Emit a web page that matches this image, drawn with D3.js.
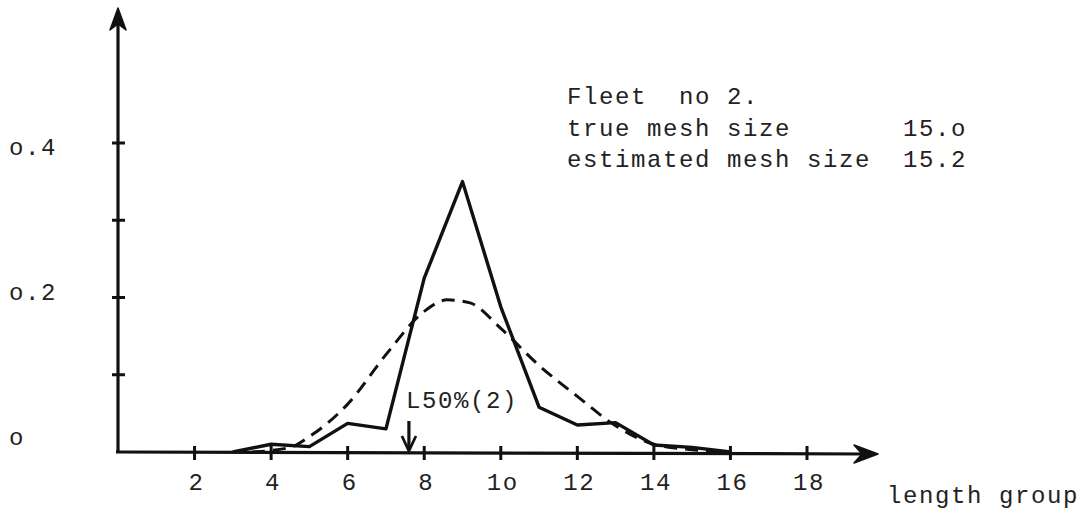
<!DOCTYPE html>
<html>
<head>
<meta charset="utf-8">
<script src="https://cdn.jsdelivr.net/npm/d3@7"></script>
<style>
  html, body { margin: 0; padding: 0; background: #fff; }
  svg { display: block; }
  text { font-family: "Liberation Mono", "DejaVu Sans Mono", monospace; font-size: 24px; fill: #222; letter-spacing: 1.6px; white-space: pre; }
</style>
</head>
<body>
<svg id="chart" width="1086" height="515"></svg>
<script>
// ---- data ----
const xTickValues = [2, 4, 6, 8, 10, 12, 14, 16, 18];
const xTickLabels = ["2", "4", "6", "8", "1o", "12", "14", "16", "18"];
const yTickValues = [0.1, 0.2, 0.3, 0.4];
const yLabelValues = [0, 0.2, 0.4];
const yLabelTexts = ["o", "o.2", "o.4"];

// observed (solid) selection curve
const observedX = [3, 4, 5, 6, 7, 8, 9, 10, 11, 12, 13, 14, 15, 16];
const observedY = [0, 0.010, 0.007, 0.037, 0.030, 0.225, 0.350, 0.188, 0.058, 0.035, 0.038, 0.009, 0.006, 0];

// estimated (dashed) selection curve
const estimatedX = [3.5, 4.5, 5, 6, 7, 8, 8.6, 9.2, 10, 11, 12, 13, 14, 15, 16];
const estimatedY = [0, 0.006, 0.020, 0.062, 0.126, 0.182, 0.197, 0.193, 0.160, 0.112, 0.072, 0.034, 0.010, 0.003, 0];

const l50Value = 7.6;
const infoLines = ["Fleet  no 2.", "true mesh size", "estimated mesh size"];
const infoValues = ["", "15.o", "15.2"];
const xTitle = "length group";
const l50Label = "L50%(2)";

// ---- drawing ----
const svg = d3.select("#chart");
const x = d3.scaleLinear().domain([0, 18]).range([118, 807]);
const y = d3.scaleLinear().domain([0, 0.4]).range([452, 143]);
const yLab = d3.scaleLinear().domain([0, 0.4]).range([437, 147]);
const ink = "#111";

// Y axis line + arrowhead
const yTop = 10;
svg.append("line").attr("x1", x(0)).attr("x2", x(0)).attr("y1", y(0) + 1).attr("y2", yTop + 12)
  .attr("stroke", ink).attr("stroke-width", 3.2);
svg.append("path")
  .attr("d", `M${x(0)},${yTop - 2} L${x(0) - 8},${yTop + 20} L${x(0)},${yTop + 14} L${x(0) + 8},${yTop + 20} Z`)
  .attr("fill", ink).attr("stroke", ink).attr("stroke-width", 1.5).attr("stroke-linejoin", "round");

// X axis line + arrowhead
const xEnd = 878;
svg.append("line").attr("x1", x(0) - 2).attr("x2", xEnd - 10).attr("y1", y(0)).attr("y2", y(0) + 2)
  .attr("stroke", ink).attr("stroke-width", 3.2);
svg.append("path")
  .attr("d", `M${xEnd},${y(0) + 2} L${xEnd - 24},${y(0) - 7} L${xEnd - 16},${y(0) + 2} L${xEnd - 24},${y(0) + 11} Z`)
  .attr("fill", ink).attr("stroke", ink).attr("stroke-width", 1.5).attr("stroke-linejoin", "round");

// Y ticks
svg.append("g").selectAll("line").data(yTickValues).join("line")
  .attr("x1", x(0) - 6).attr("x2", x(0) + 7)
  .attr("y1", d => y(d)).attr("y2", d => y(d))
  .attr("stroke", ink).attr("stroke-width", 3);

// Y labels
svg.append("g").selectAll("text").data(yLabelValues).join("text")
  .attr("x", 9).attr("y", d => yLab(d)).attr("dy", "0.35em")
  .text((d, i) => yLabelTexts[i]);

// X ticks
svg.append("g").selectAll("line").data(xTickValues).join("line")
  .attr("x1", d => x(d)).attr("x2", d => x(d))
  .attr("y1", y(0) - 6).attr("y2", y(0) + 8)
  .attr("stroke", ink).attr("stroke-width", 3);

// X labels
svg.append("g").selectAll("text").data(xTickValues).join("text")
  .attr("x", d => x(d) + 2).attr("y", 490).attr("text-anchor", "middle")
  .text((d, i) => xTickLabels[i]);

// X title
svg.append("text").attr("x", 887).attr("y", 503).text(xTitle);

// estimated dashed curve
const estData = estimatedX.map((v, i) => [v, estimatedY[i]]);
svg.append("path").datum(estData)
  .attr("d", d3.line().x(d => x(d[0])).y(d => y(d[1])).curve(d3.curveMonotoneX))
  .attr("fill", "none").attr("stroke", ink).attr("stroke-width", 3)
  .attr("stroke-dasharray", "13,8");

// observed solid line
const obsData = observedX.map((v, i) => [v, observedY[i]]);
svg.append("path").datum(obsData)
  .attr("d", d3.line().x(d => x(d[0])).y(d => y(d[1])))
  .attr("fill", "none").attr("stroke", ink).attr("stroke-width", 3.4)
  .attr("stroke-linejoin", "round");

// L50 arrow + label
const lx = x(l50Value);
svg.append("line").attr("x1", lx).attr("x2", lx).attr("y1", 421).attr("y2", y(0) - 2)
  .attr("stroke", ink).attr("stroke-width", 3.2);
svg.append("path").attr("d", `M${lx - 7},${y(0) - 16} L${lx},${y(0) - 1} L${lx + 7},${y(0) - 16}`)
  .attr("fill", "none").attr("stroke", ink).attr("stroke-width", 2.8);
svg.append("text").attr("x", 406).attr("y", 408).text(l50Label);

// info text block
svg.append("g").selectAll("text").data(infoLines).join("text")
  .attr("x", 567).attr("y", (d, i) => 104 + i * 31.5).text(d => d);
svg.append("g").selectAll("text").data(infoValues).join("text")
  .attr("x", 903).attr("y", (d, i) => 104 + i * 31.5).text(d => d);
</script>
</body>
</html>
